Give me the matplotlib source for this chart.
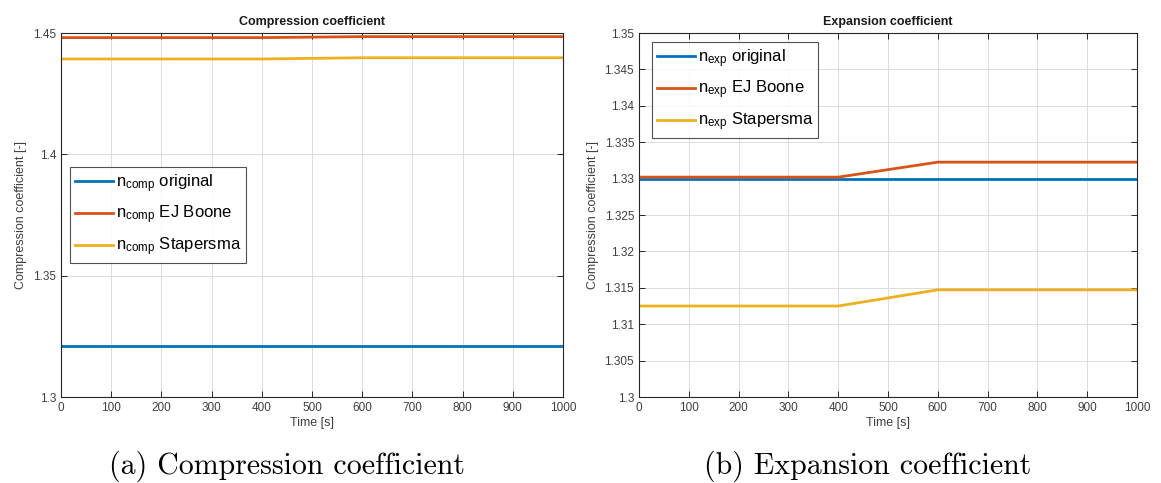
import matplotlib
matplotlib.use("Agg")
import matplotlib.pyplot as plt

plt.rcParams['font.family'] = ['Liberation Sans', 'DejaVu Sans']
plt.rcParams['mathtext.fontset'] = 'custom'
plt.rcParams['mathtext.rm'] = 'Liberation Sans'
plt.rcParams['mathtext.it'] = 'Liberation Sans'

# Data
time = [0, 400, 600, 1000]
comp_original = [1.3209, 1.3209, 1.3209, 1.3209]
comp_boone = [1.4481, 1.4481, 1.4485, 1.4485]
comp_stapersma = [1.4393, 1.4393, 1.4398, 1.4398]
exp_original = [1.3300, 1.3300, 1.3300, 1.3300]
exp_boone = [1.3302, 1.3302, 1.33226, 1.33226]
exp_stapersma = [1.3125, 1.3125, 1.31472, 1.31472]

x_ticks = [0, 100, 200, 300, 400, 500, 600, 700, 800, 900, 1000]
comp_yticks = [1.3, 1.35, 1.4, 1.45]
exp_yticks = [1.3, 1.305, 1.31, 1.315, 1.32, 1.325, 1.33, 1.335, 1.34, 1.345, 1.35]

C_BLUE = '#0072BD'
C_ORANGE = '#D95319'
C_YELLOW = '#EDB120'
AX_COL = '#262626'

W, H = 1161, 483
fig = plt.figure(figsize=(W / 100, H / 100), dpi=100)

def ax_rect(x0, y0, x1, y1):
    return [x0 / W, 1 - y1 / H, (x1 - x0) / W, (y1 - y0) / H]

ax1 = fig.add_axes(ax_rect(61, 33, 563, 397))
ax2 = fig.add_axes(ax_rect(639, 33, 1137, 397))

def style(ax, yticks, ylim, title):
    ax.set_xlim(0, 1000)
    ax.set_ylim(*ylim)
    ax.set_xticks(x_ticks)
    ax.set_yticks(yticks)
    ax.set_yticklabels([f"{v:g}" for v in yticks])
    ax.grid(True, color='#DCDCDC', linewidth=0.7)
    ax.set_axisbelow(True)
    ax.tick_params(direction='in', top=True, right=True, length=4, width=0.7,
                   colors=AX_COL, labelsize=8.5, labelcolor='#404040')
    for s in ax.spines.values():
        s.set_color(AX_COL)
        s.set_linewidth(0.8)
    ax.set_title(title, fontsize=9, fontweight='bold', pad=6, color='#1a1a1a')
    ax.set_xlabel('Time [s]', fontsize=9, color='#404040', labelpad=2)
    ax.set_ylabel('Compression coefficient [-]', fontsize=9, color='#404040', labelpad=4)

lw = 2.0
ax1.plot(time, comp_original, color=C_BLUE, lw=lw, label=r'n$_{\mathrm{comp}}$ original')
ax1.plot(time, comp_boone, color=C_ORANGE, lw=lw, label=r'n$_{\mathrm{comp}}$ EJ Boone')
ax1.plot(time, comp_stapersma, color=C_YELLOW, lw=lw, label=r'n$_{\mathrm{comp}}$ Stapersma')
style(ax1, comp_yticks, (1.3, 1.45), 'Compression coefficient')

ax2.plot(time, exp_original, color=C_BLUE, lw=lw, label=r'n$_{\mathrm{exp}}$ original')
ax2.plot(time, exp_boone, color=C_ORANGE, lw=lw, label=r'n$_{\mathrm{exp}}$ EJ Boone')
ax2.plot(time, exp_stapersma, color=C_YELLOW, lw=lw, label=r'n$_{\mathrm{exp}}$ Stapersma')
style(ax2, exp_yticks, (1.3, 1.35), 'Expansion coefficient')

for ax, anchor in ((ax1, (0.018, 0.632)), (ax2, (0.026, 0.975))):
    leg = ax.legend(loc='upper left', bbox_to_anchor=anchor, fontsize=12,
                    frameon=True, fancybox=False, edgecolor=AX_COL,
                    handlelength=2.3, handletextpad=0.15, borderpad=0.3,
                    labelspacing=0.55, borderaxespad=0)
    leg.get_frame().set_linewidth(0.8)

fig.text(287 / W, 1 - 466 / H, '(a) Compression coefficient', ha='center', va='center',
         fontsize=21.5, family=['cmr10', 'DejaVu Serif'])
fig.text(868 / W, 1 - 466 / H, '(b) Expansion coefficient', ha='center', va='center',
         fontsize=21.5, family=['cmr10', 'DejaVu Serif'])

fig.savefig('out.png', dpi=100)
